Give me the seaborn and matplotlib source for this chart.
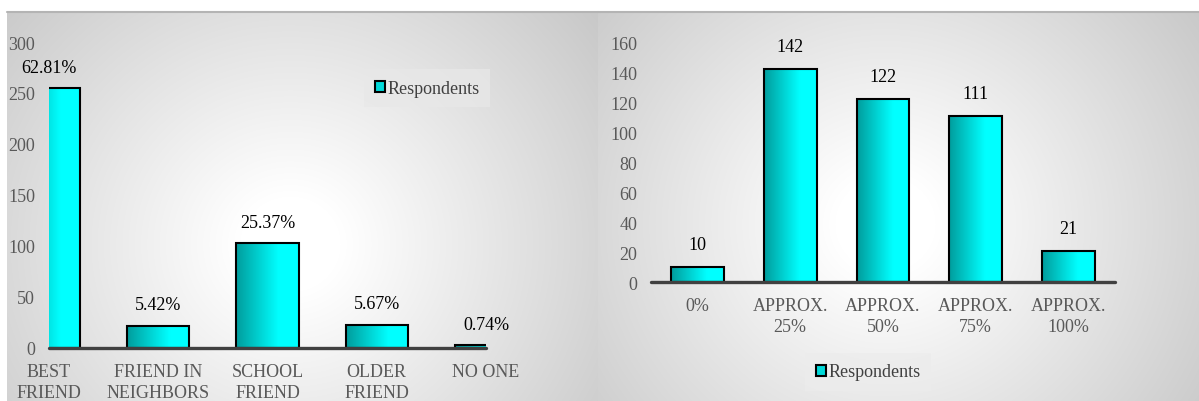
import numpy as np
import pandas as pd
import matplotlib
matplotlib.use("Agg")
import matplotlib.pyplot as plt
from matplotlib.patches import Patch
from matplotlib.colors import LinearSegmentedColormap
import seaborn as sns

# ---- data -------------------------------------------------------------
friend_categories = ["BEST\nFRIEND", "FRIEND IN\nNEIGHBORS", "SCHOOL\nFRIEND",
                     "OLDER\nFRIEND", "NO ONE"]
friend_counts = [255, 22, 103, 23, 3]

share_categories = ["0%", "APPROX.\n25%", "APPROX.\n50%", "APPROX.\n75%",
                    "APPROX.\n100%"]
share_counts = [10, 142, 122, 111, 21]

series_name = "Respondents"

# ---- style ------------------------------------------------------------
sns.set_style("white")
plt.rcParams["font.family"] = ["Liberation Serif", "DejaVu Serif"]

W, H, DPI = 1199, 402, 100
fig = plt.figure(figsize=(W / DPI, H / DPI), dpi=DPI, facecolor="white")

TICK_COLOR = "#595959"
LABEL_COLOR = "#000000"
FS = 13
bar_cmap = LinearSegmentedColormap.from_list(
    "teal_cyan", [(0.0, "#009c9c"), (0.68, "#00ffff"), (1.0, "#00ffff")])


def px_rect(x0, y0, x1, y1):
    """Pixel box (top-left origin) -> figure fraction rect."""
    return [x0 / W, (H - y1) / H, (x1 - x0) / W, (y1 - y0) / H]


def panel_background(rect_px, center_px):
    x0, y0, x1, y1 = rect_px
    bg = fig.add_axes(px_rect(x0, y0, x1, y1), zorder=0)
    bg.set_axis_off()
    xs = np.arange(x0, x1)
    ys = np.arange(y0, y1)
    X, Y = np.meshgrid(xs, ys)
    d = np.hypot(X - center_px[0], (Y - center_px[1]) * 1.05)
    t = np.clip((d - 50) / 360.0, 0, 1.2)
    v = (255 - 58 * t) / 255.0
    img = np.dstack([v, v, v])
    bg.imshow(img, aspect="auto", extent=[0, 1, 0, 1], interpolation="bilinear")
    bg.set_xlim(0, 1)
    bg.set_ylim(0, 1)
    bg.axhline(1, color="#b4b4b4", lw=1.5, clip_on=False)
    return bg


def gradient_bars(ax):
    grad = np.linspace(0, 1, 256).reshape(1, -1)
    for patch in ax.patches:
        x, y = patch.get_x(), patch.get_y()
        w, h = patch.get_width(), patch.get_height()
        im = ax.imshow(grad, cmap=bar_cmap, aspect="auto",
                       extent=[x, x + w, y, y + h], zorder=2,
                       interpolation="bilinear")
        # clip to the bar outline while keeping the axes clip box
        im.set_clip_path(patch.get_path(), patch.get_transform())
        patch.set_facecolor("none")
        patch.set_zorder(3)
        patch.set_clip_on(True)


def style_axes(ax, ymax, ystep, xlim, xpad):
    ax.set_facecolor("none")
    for s in ax.spines.values():
        s.set_visible(False)
    ax.set_xlim(*xlim)
    ax.set_ylim(0, ymax)
    ax.set_yticks(np.arange(0, ymax + 1, ystep))
    ax.tick_params(axis="y", length=0, pad=10, labelsize=FS, labelcolor=TICK_COLOR)
    ax.tick_params(axis="x", length=0, pad=xpad, labelsize=FS, labelcolor=TICK_COLOR)
    ax.set_xlabel("")
    ax.set_ylabel("")
    ax.grid(False)
    ax.axhline(0, color="#404040", lw=2.4, zorder=5, clip_on=False)
    for lab in ax.get_xticklabels():
        lab.set_linespacing(1.3)


# ---- panel backgrounds ------------------------------------------------
panel_background((7, 13, 598, 402), (290, 245))
panel_background((598, 13, 1199, 402), (885, 225))

handle = [Patch(facecolor="#00d8d8", edgecolor="black", linewidth=1.5,
                label=series_name)]

# ---- left chart: who respondents turn to -------------------------------
ax1 = fig.add_axes(px_rect(49, 43, 486, 349), zorder=2)
df1 = pd.DataFrame({"category": friend_categories, "count": friend_counts})
sns.barplot(data=df1, x="category", y="count", ax=ax1, width=0.57,
            color="#00ffff", edgecolor="black", linewidth=1.5, saturation=1)
gradient_bars(ax1)
style_axes(ax1, 300, 50, (0, 4), 11)
total = sum(friend_counts)
for i, c in enumerate(friend_counts):
    ax1.annotate(f"{c / total * 100:.2f}%", (i, c), xytext=(0, 15),
                 textcoords="offset points", ha="center", va="center",
                 fontsize=FS, color=LABEL_COLOR, annotation_clip=False)
leg1 = ax1.legend(handles=handle, loc="center",
                  bbox_to_anchor=(427 / W, (H - 89) / H),
                  bbox_transform=fig.transFigure, frameon=True,
                  fancybox=False, fontsize=FS, handlelength=0.55,
                  handleheight=0.55, handletextpad=0.15, borderpad=0.6,
                  labelcolor="#404040")
leg1.get_frame().set_facecolor("#e8e8e8")
leg1.get_frame().set_alpha(0.75)
leg1.get_frame().set_edgecolor("none")

# ---- right chart: share of time ----------------------------------------
ax2 = fig.add_axes(px_rect(651, 43, 1115, 283), zorder=2)
df2 = pd.DataFrame({"category": share_categories, "count": share_counts})
sns.barplot(data=df2, x="category", y="count", ax=ax2, width=0.57,
            color="#00ffff", edgecolor="black", linewidth=1.5, saturation=1)
gradient_bars(ax2)
style_axes(ax2, 160, 20, (-0.5, 4.5), 11)
for i, c in enumerate(share_counts):
    ax2.annotate(f"{c}", (i, c), xytext=(0, 16),
                 textcoords="offset points", ha="center", va="center",
                 fontsize=FS, color=LABEL_COLOR, annotation_clip=False)
leg2 = ax2.legend(handles=handle, loc="center",
                  bbox_to_anchor=(868 / W, (H - 373) / H),
                  bbox_transform=fig.transFigure, frameon=True,
                  fancybox=False, fontsize=FS, handlelength=0.55,
                  handleheight=0.55, handletextpad=0.15, borderpad=0.6,
                  labelcolor="#404040")
leg2.get_frame().set_facecolor("#ececec")
leg2.get_frame().set_alpha(0.75)
leg2.get_frame().set_edgecolor("none")

fig.savefig("out.png", dpi=DPI, facecolor="white")
